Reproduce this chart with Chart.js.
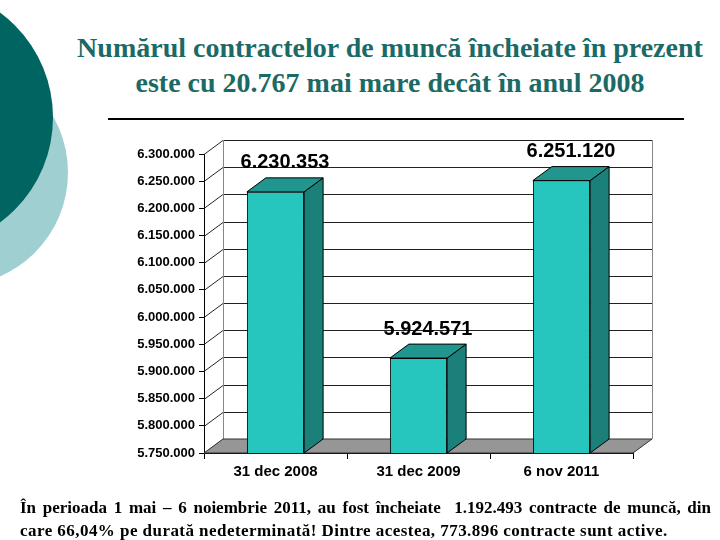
<!DOCTYPE html>
<html>
<head>
<meta charset="utf-8">
<script src="https://cdn.jsdelivr.net/npm/chart.js@4.4.0/dist/chart.umd.min.js"></script>
<style>
  html, body { margin: 0; padding: 0; background: #fff; }
  #page { position: relative; width: 720px; height: 540px; overflow: hidden; }
  .circle { position: absolute; border-radius: 50%; }
  #c1 { left: -159px; top: 59px; width: 227px; height: 227px; background: #9fcfd0; }
  #c2 { left: -208px; top: -13px; width: 261px; height: 261px; background: #006461; }
  #title {
    position: absolute; left: 60px; width: 660px; top: 30px;
    font: bold 28px "Liberation Serif", "Times New Roman", serif;
    color: #1b6a65; text-align: center; line-height: 35px;
  }
  #rule { position: absolute; left: 108px; width: 576px; top: 118px; height: 2px; background: #000; }
  .note {
    position: absolute; left: 20px; width: 691px;
    font: bold 17px "Liberation Serif", "Times New Roman", serif;
    color: #000; line-height: 23px; white-space: nowrap;
  }
  #note1 { top: 496px; text-align: justify; text-align-last: justify; }
  #note2 { top: 519px; letter-spacing: 0.45px; }
  canvas { position: absolute; left: 0; top: 0; }
</style>
</head>
<body>
<div id="page">
  <div class="circle" id="c1"></div>
  <div class="circle" id="c2"></div>
  <div id="title">Numărul contractelor de muncă încheiate în prezent<br>este cu 20.767 mai mare decât în anul 2008</div>
  <div id="rule"></div>
  <canvas id="chart" width="720" height="540"></canvas>
  <div class="note" id="note1">În perioada 1 mai – 6 noiembrie 2011, au fost încheiate&nbsp; 1.192.493 contracte de muncă, din</div>
  <div class="note" id="note2">care 66,04% pe durată nedeterminată! Dintre acestea, 773.896 contracte sunt active.</div>
</div>
<script>
const categories = ['31 dec 2008', '31 dec 2009', '6 nov 2011'];
const contracts = [6230353, 5924571, 6251120];
const yMin = 5750000;
const yMax = 6300000;
const yStep = 50000;

const DX = 19, DY = 14;

function fmt(v) {
    return String(Math.round(v)).replace(/\B(?=(\d{3})+(?!\d))/g, '.');
}

// perete din spate, podea si liniile de grila (efect 3D)
const wallPlugin = {
    id: 'wall',
    beforeDatasetsDraw(chart) {
        const { ctx, chartArea: a, scales: { y } } = chart;
        ctx.save();
        ctx.fillStyle = '#ffffff';
        ctx.fillRect(a.left + DX, a.top - DY, a.right - a.left, a.bottom - a.top);

        ctx.lineWidth = 1;
        ctx.strokeStyle = '#222';
        y.ticks.forEach(t => {
            const py = Math.round(y.getPixelForValue(t.value)) + 0.5;
            ctx.beginPath();
            ctx.moveTo(a.left, py);
            ctx.lineTo(a.left + DX, py - DY);
            ctx.lineTo(a.right + DX, py - DY);
            ctx.stroke();
        });

        ctx.strokeStyle = '#888';
        ctx.beginPath();
        ctx.moveTo(a.left + DX + 0.5, a.top - DY);
        ctx.lineTo(a.left + DX + 0.5, a.bottom - DY);
        ctx.moveTo(a.right + DX + 0.5, a.top - DY);
        ctx.lineTo(a.right + DX + 0.5, a.bottom - DY);
        ctx.stroke();

        ctx.fillStyle = '#969696';
        ctx.strokeStyle = '#333';
        ctx.beginPath();
        ctx.moveTo(a.left, a.bottom);
        ctx.lineTo(a.right, a.bottom);
        ctx.lineTo(a.right + DX, a.bottom - DY);
        ctx.lineTo(a.left + DX, a.bottom - DY);
        ctx.closePath();
        ctx.fill();
        ctx.stroke();
        ctx.restore();
    },
    afterDatasetsDraw(chart) {
        const { ctx, chartArea: a } = chart;
        const meta = chart.getDatasetMeta(0);
        ctx.save();
        ctx.lineWidth = 1;
        ctx.strokeStyle = '#000';
        meta.data.forEach((bar, i) => {
            const l = bar.x - bar.width / 2, r = bar.x + bar.width / 2;
            const t = bar.y, b = Math.min(bar.base, a.bottom);
            // fata laterala
            ctx.fillStyle = '#1b8079';
            ctx.beginPath();
            ctx.moveTo(r, b);
            ctx.lineTo(r + DX, b - DY);
            ctx.lineTo(r + DX, t - DY);
            ctx.lineTo(r, t);
            ctx.closePath();
            ctx.fill();
            ctx.stroke();
            // capacul
            ctx.fillStyle = '#20968e';
            ctx.beginPath();
            ctx.moveTo(l, t);
            ctx.lineTo(l + DX, t - DY);
            ctx.lineTo(r + DX, t - DY);
            ctx.lineTo(r, t);
            ctx.closePath();
            ctx.fill();
            ctx.stroke();

            ctx.fillStyle = '#000';
            ctx.font = 'bold 20px "Liberation Sans", Arial, sans-serif';
            ctx.textAlign = 'center';
            ctx.textBaseline = 'middle';
            ctx.fillText(fmt(contracts[i]), bar.x + DX / 2, t - DY - 15);
        });
        ctx.restore();
    }
};

new Chart(document.getElementById('chart'), {
    type: 'bar',
    data: {
        labels: categories,
        datasets: [{
            data: contracts,
            backgroundColor: '#26c5bd',
            borderColor: '#000',
            borderWidth: 1,
            barPercentage: 0.4,
            categoryPercentage: 1
        }]
    },
    options: {
        responsive: false,
        animation: false,
        devicePixelRatio: 1,
        layout: { padding: { left: 0, right: 87, top: 154, bottom: 0 } },
        plugins: { legend: { display: false }, tooltip: { enabled: false } },
        scales: {
            x: {
                afterFit: s => { s.height = 87; },
                grid: { drawOnChartArea: false, tickLength: 6, color: '#000', offset: true },
                border: { display: true, color: '#000' },
                ticks: {
                    color: '#000',
                    padding: 4,
                    font: { family: '"Liberation Sans", Arial, sans-serif', size: 15, weight: 'bold' }
                }
            },
            y: {
                min: yMin,
                max: yMax,
                afterFit: s => { s.width = 204; },
                grid: { drawOnChartArea: false, tickLength: 5, color: '#000' },
                border: { display: true, color: '#000' },
                ticks: {
                    stepSize: yStep,
                    color: '#000',
                    padding: 4,
                    callback: v => fmt(v),
                    font: { family: '"Liberation Sans", Arial, sans-serif', size: 13, weight: 'bold' }
                }
            }
        }
    },
    plugins: [wallPlugin]
});
</script>
</body>
</html>
